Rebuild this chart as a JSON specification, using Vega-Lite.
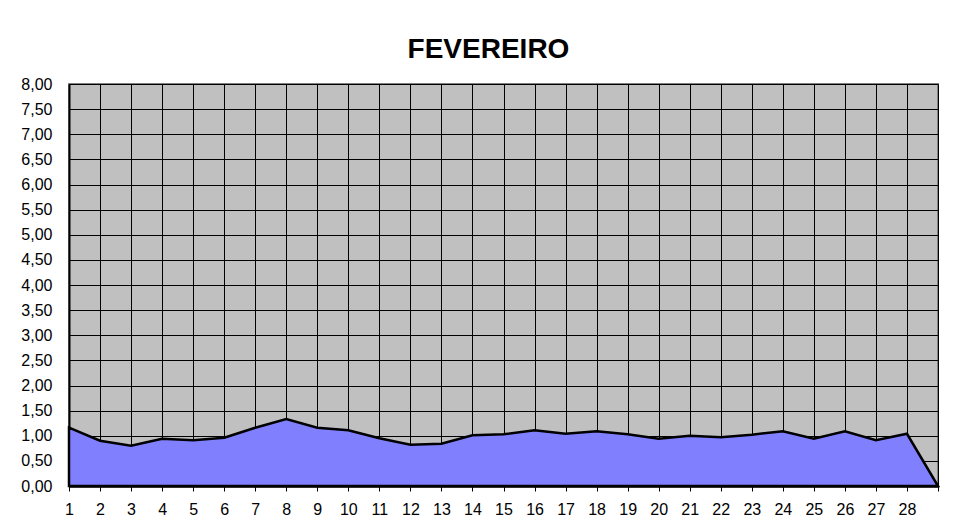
{
  "$schema": "https://vega.github.io/schema/vega-lite/v6.json",
  "autosize": "none",
  "width": 869,
  "height": 402,
  "padding": {"left": 69, "top": 84, "right": 16, "bottom": 42},
  "background": "white",
  "title": {
    "text": "FEVEREIRO",
    "font": "Liberation Sans",
    "fontSize": 28,
    "fontWeight": "bold",
    "color": "black",
    "anchor": "middle",
    "dx": -15,
    "offset": 12
  },
  "config": {
    "view": {"fill": "#C0C0C0", "stroke": "#808080", "strokeWidth": 2},
    "axis": {
      "labelFont": "Liberation Sans",
      "labelFontSize": 16,
      "labelColor": "black",
      "gridColor": "black",
      "gridOpacity": 1,
      "gridWidth": 1,
      "domainColor": "black",
      "tickColor": "black",
      "title": null
    }
  },
  "data": {
    "values": [
      {"day": 1, "value": 1.16},
      {"day": 2, "value": 0.90},
      {"day": 3, "value": 0.80},
      {"day": 4, "value": 0.94},
      {"day": 5, "value": 0.91},
      {"day": 6, "value": 0.96},
      {"day": 7, "value": 1.16},
      {"day": 8, "value": 1.33},
      {"day": 9, "value": 1.16},
      {"day": 10, "value": 1.11},
      {"day": 11, "value": 0.95},
      {"day": 12, "value": 0.82},
      {"day": 13, "value": 0.84},
      {"day": 14, "value": 1.01},
      {"day": 15, "value": 1.03},
      {"day": 16, "value": 1.11},
      {"day": 17, "value": 1.04},
      {"day": 18, "value": 1.09},
      {"day": 19, "value": 1.03},
      {"day": 20, "value": 0.94},
      {"day": 21, "value": 1.00},
      {"day": 22, "value": 0.97},
      {"day": 23, "value": 1.02},
      {"day": 24, "value": 1.09},
      {"day": 25, "value": 0.94},
      {"day": 26, "value": 1.09},
      {"day": 27, "value": 0.91},
      {"day": 28, "value": 1.04},
      {"day": 29, "value": 0}
    ]
  },
  "mark": {"type": "area", "color": "#8080FF", "fillOpacity": 1, "stroke": "black", "strokeWidth": 2.5, "strokeJoin": "miter"},
  "encoding": {
    "x": {
      "field": "day",
      "type": "quantitative",
      "scale": {"domain": [1, 29], "nice": false, "zero": false},
      "axis": {
        "values": [1,2,3,4,5,6,7,8,9,10,11,12,13,14,15,16,17,18,19,20,21,22,23,24,25,26,27,28,29],
        "labelExpr": "datum.value == 29 ? '' : datum.value",
        "domainWidth": 2.5,
        "tickSize": 5,
        "tickWidth": 1,
        "labelPadding": 10,
        "labelFlush": false,
        "labelOverlap": false
      }
    },
    "y": {
      "field": "value",
      "type": "quantitative",
      "scale": {"domain": [0, 8], "nice": false},
      "axis": {
        "values": [0,0.5,1,1.5,2,2.5,3,3.5,4,4.5,5,5.5,6,6.5,7,7.5,8],
        "labelExpr": "replace(format(datum.value, '.2f'), '.', ',')",
        "domainWidth": 2,
        "ticks": false,
        "labelPadding": 17,
        "labelFlush": false,
        "labelOverlap": false
      }
    }
  }
}
